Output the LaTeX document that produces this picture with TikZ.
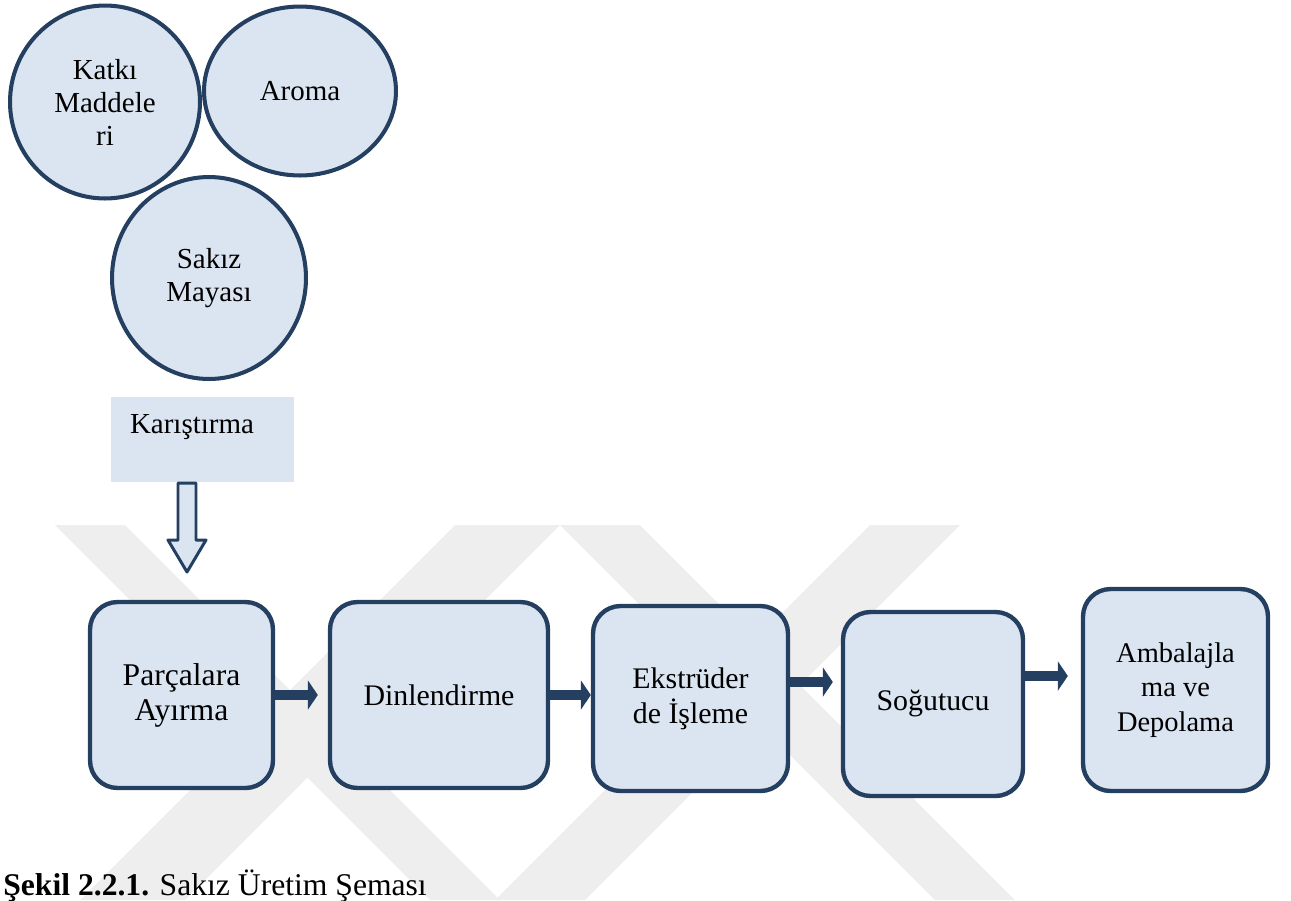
\documentclass[tikz,border=0pt]{standalone}
\usepackage{fontspec}
\setmainfont{Liberation Serif}
\usetikzlibrary{shapes.geometric,arrows.meta}
\definecolor{boxline}{HTML}{243F60}
\definecolor{boxfill}{HTML}{DBE5F1}
\definecolor{wmark}{HTML}{EEEEEE}
\begin{document}
\begin{tikzpicture}[x=0.02cm,y=-0.02cm,line join=round,
	blob/.style={ellipse,draw=boxline,fill=boxfill,line width=2.3pt,inner sep=0pt,align=center,font=\fontsize{16.5}{18.8}\selectfont},
	stage/.style={rectangle,rounded corners=0.55cm,draw=boxline,fill=boxfill,line width=2.5pt,inner sep=0pt,align=center,font=\fontsize{17}{20}\selectfont},
	flow/.style={draw=boxline,line width=5.5pt,-{Triangle[length=0.2cm,width=0.58cm]}},
	hollow/.style={draw=boxline,fill=boxfill,line width=1.7pt}]
	\useasboundingbox (0,0) rectangle (1291,900);
	% watermark
	\begin{scope}
		\clip (0,525) rectangle (1291,900);
		\fill[wmark] (55,525) -- (125,525) -- (500,900) -- (430,900) -- cycle;
		\fill[wmark] (455,525) -- (560,525) -- (185,900) -- (80,900) -- cycle;
		\fill[wmark] (560,525) -- (640,525) -- (1015,900) -- (935,900) -- cycle;
		\fill[wmark] (870,525) -- (960,525) -- (585,900) -- (495,900) -- cycle;
	\end{scope}
	% ingredients
	\node[blob,minimum width=3.8cm,minimum height=3.86cm] (katki) at (105,102) {Katkı\\Maddele\\ri};
	\node[blob,minimum width=3.84cm,minimum height=3.38cm] (aroma) at (300,91) {Aroma};
	\node[blob,minimum width=3.88cm,minimum height=4.04cm] (maya) at (209,278) {Sakız\\Mayası};
	% mixing
	\node[fill=boxfill,minimum width=3.66cm,minimum height=1.7cm,inner sep=0pt] (mix) at (202.5,439.5) {};
	\node[font=\fontsize{16.5}{18.8}\selectfont] (mixlabel) at (192,427) {Karıştırma};
	\coordinate (droptop) at (187,483);
	\draw[hollow] (droptop) ++(-9,0) -- ++(0,57) -- ++(-10,0) -- ++(19,32) -- ++(19,-32) -- ++(-10,0) -- ++(0,-57) -- cycle;
	% process line
	\node[stage,minimum width=3.66cm,minimum height=3.72cm,font=\fontsize{18}{20}\selectfont] (b1) at (181.5,695) {Parçalara\\Ayırma};
	\node[stage,minimum width=4.36cm,minimum height=3.72cm] (b2) at (439,695) {Dinlendirme};
	\node[stage,minimum width=3.9cm,minimum height=3.7cm] (b3) at (690.5,698.5) {Ekstrüder\\de İşleme};
	\node[stage,minimum width=3.6cm,minimum height=3.68cm] (b4) at (933,704) {Soğutucu};
	\node[stage,minimum width=3.7cm,minimum height=4.04cm,font=\fontsize{16.2}{19.5}\selectfont] (b5) at (1175.5,690) {Ambalajla\\ma ve\\Depolama};
	\coordinate (c3) at ([yshift=0.33cm]b3.east);
	\coordinate (c4) at ([yshift=0.56cm]b4.east);
	\draw[flow,shorten >=0.2cm] (b1.east) -- (b1.east -| b2.west);
	\draw[flow] (b2.east) -- (b2.east -| b3.west);
	\draw[flow,shorten >=0.16cm] (c3) -- (c3 -| b4.west);
	\draw[flow,shorten >=0.26cm] (c4) -- (c4 -| b5.west);
	% caption
	\node[anchor=base west,inner sep=0pt,font=\fontsize{18}{20}\selectfont] (caption) at (3,895) {\textbf{Şekil 2.2.1.} Sakız Üretim Şeması};
\end{tikzpicture}
\end{document}
